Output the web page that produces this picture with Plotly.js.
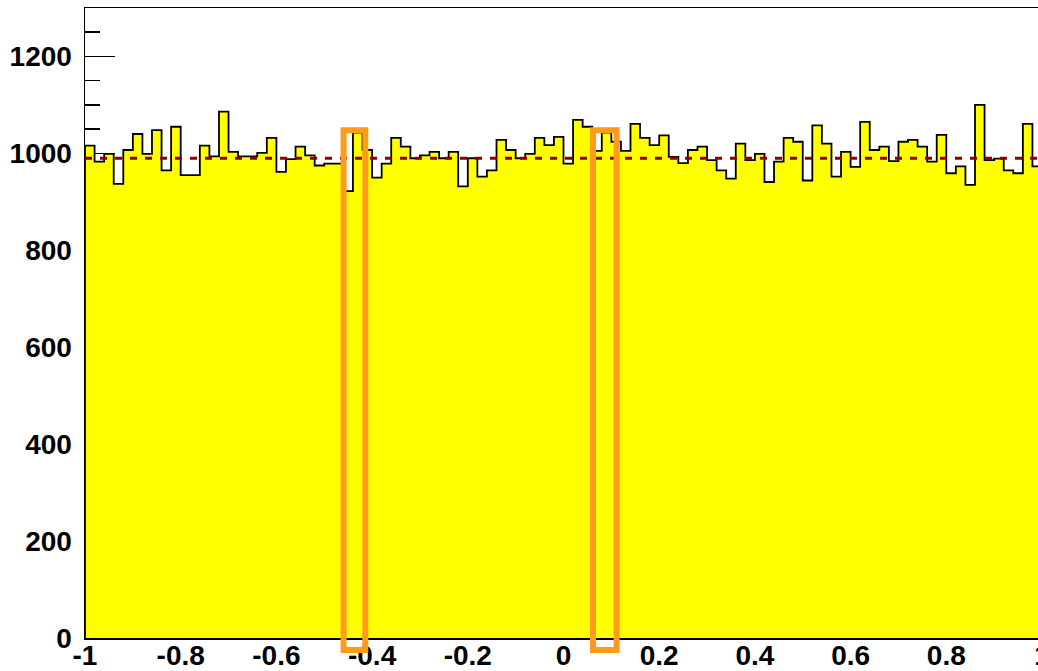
<!DOCTYPE html>
<html><head><meta charset="utf-8">
<script src="https://cdn.plot.ly/plotly-3.0.1.min.js"></script>
<style>html,body{margin:0;padding:0;overflow:hidden;background:#fff}#chart{width:1100px;height:671px}</style>
</head><body><div id="chart"></div>
<script>
const xMin = -1, xMax = 1;
const binCounts = [
 1016, 983, 999, 937, 1007, 1040, 999, 1048, 965, 1055,
 955, 955, 1016, 994, 1086, 1003, 994, 994, 1001, 1032,
 962, 988, 1014, 996, 975, 979, 979, 922, 1043, 1007,
 950, 979, 1032, 1014, 990, 996, 1003, 990, 1003, 932,
 990, 952, 965, 1028, 1007, 990, 999, 1032, 1017, 1034,
 979, 1069, 1055, 1005, 1043, 1024, 1005, 1061, 1032, 1017,
 1037, 993, 980, 1007, 1014, 986, 965, 948, 1020, 986,
 999, 941, 983, 1032, 1024, 944, 1058, 1020, 952, 1003,
 972, 1065, 1007, 1014, 984, 1024, 1028, 1014, 983, 1038,
 959, 973, 935, 1100, 986, 989, 965, 959, 1061, 973
];
const fitLevel = 990;
const xTickVals = [-1, -0.8, -0.6, -0.4, -0.2, 0, 0.2, 0.4, 0.6, 0.8, 1];
const xTickText = ['-1', '-0.8', '-0.6', '-0.4', '-0.2', '0', '0.2', '0.4', '0.6', '0.8', '1'];
const yTickVals = [0, 200, 400, 600, 800, 1000, 1200];
const highlightX = [[-0.4596, -0.4142], [0.0617, 0.111]];

const n = binCounts.length;
const bw = (xMax - xMin) / n;
const stepX = [xMin], stepY = [0];
for (let i = 0; i < n; i++) { stepX.push(xMin + i * bw); stepY.push(binCounts[i]); }
stepX.push(xMax); stepY.push(binCounts[n - 1]);
stepX.push(xMax); stepY.push(0);

const tickFont = {family: 'Liberation Sans, Arial, sans-serif', size: 28, color: '#000', weight: 'bold'};

const traces = [
  {type: 'scatter', mode: 'lines', x: stepX, y: stepY, line: {shape: 'hv', color: '#000', width: 1.8},
   fill: 'tozeroy', fillcolor: '#ffff00', hoverinfo: 'skip', showlegend: false},
  {type: 'scatter', mode: 'lines', x: [xMin, xMax], y: [fitLevel, fitLevel],
   line: {color: '#8b0000', width: 3, dash: '7px,8px'}, showlegend: false}
];

const shapes = highlightX.map(r => ({
  type: 'rect', xref: 'x', yref: 'paper', x0: r[0], x1: r[1], y0: -0.019, y1: 0.806,
  line: {color: '#ff9b1a', width: 6}, fillcolor: 'rgba(0,0,0,0)', layer: 'above'
}));

const layout = {
  width: 1100, height: 671,
  margin: {l: 85, r: 58, t: 8, b: 33, pad: 0},
  paper_bgcolor: '#fff', plot_bgcolor: '#fff',
  showlegend: false,
  xaxis: {range: [xMin, xMax], tickmode: 'array', tickvals: xTickVals, ticktext: xTickText,
    ticks: '', showline: true, mirror: true, linecolor: '#000', linewidth: 1.5,
    showgrid: false, zeroline: false, tickfont: tickFont, layer: 'above traces', ticklabelstandoff: -8},
  yaxis: {range: [0, 1300], tickmode: 'array', tickvals: yTickVals,
    ticks: 'inside', ticklen: 30, tickwidth: 1.5, tickcolor: '#000',
    minor: {tickmode: 'linear', tick0: 0, dtick: 50, ticks: 'inside', ticklen: 15, tickwidth: 1.5, tickcolor: '#000', showgrid: false},
    showline: true, mirror: true, linecolor: '#000', linewidth: 1.5,
    showgrid: false, zeroline: false, tickfont: tickFont, layer: 'below traces', ticklabelstandoff: 6},
  shapes: shapes
};

Plotly.newPlot('chart', traces, layout, {displayModeBar: false, staticPlot: true});
</script>
</body></html>
